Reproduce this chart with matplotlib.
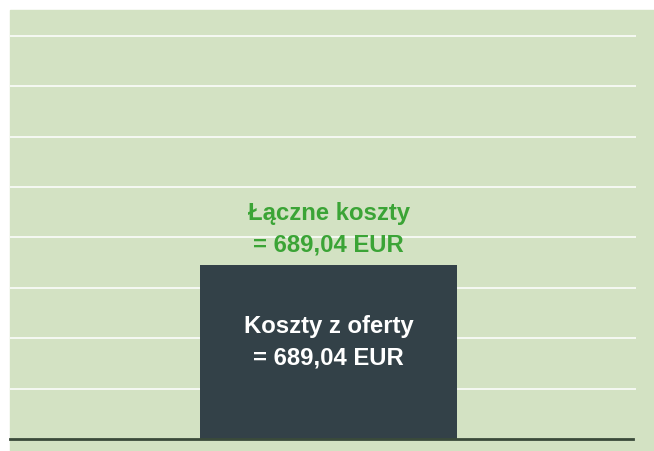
import matplotlib.pyplot as plt
from matplotlib.patches import Rectangle

# data
categories = ['Koszty z oferty']
values = [689.04]
total_label = 'Łączne koszty\n= 689,04 EUR'
bar_label = 'Koszty z oferty\n= 689,04 EUR'
grid_ticks = [200, 400, 600, 800, 1000, 1200, 1400, 1600]

bg = '#d3e2c3'
bar_color = '#334148'
green = '#3ba436'

plt.rcParams['font.family'] = ['Liberation Sans', 'DejaVu Sans']

fig = plt.figure(figsize=(6.54, 4.52), dpi=100)
fig.patch.set_facecolor('white')
fig.add_artist(Rectangle((10 / 654, 0), 644 / 654, 441 / 452,
                         transform=fig.transFigure, color=bg, zorder=-5))

ax = fig.add_axes([10 / 654, 12 / 452, 626 / 654, 429 / 452])
ax.set_facecolor('none')
ax.set_xlim(0, 1)
ax.set_ylim(0, 1702)

xpos = [0.5088]
ax.bar(xpos, values, width=0.4105, color=bar_color, zorder=2)

for t in grid_ticks:
    ax.axhline(t, color='white', lw=1.3, alpha=0.85, zorder=1)
ax.plot([0, 623 / 626], [0, 0], color='#3a4a3a', lw=2, zorder=3, clip_on=False)

for x, v in zip(xpos, values):
    ax.text(x, v + 147, total_label, ha='center', va='center', color=green,
            fontsize=17.2, fontweight='bold', linespacing=1.45)
    ax.text(x, v / 2 + 43, bar_label, ha='center', va='center', color='white',
            fontsize=17.2, fontweight='bold', linespacing=1.45)

for s in ax.spines.values():
    s.set_visible(False)
ax.set_xticks([])
ax.set_yticks([])

fig.savefig('out.png', dpi=100)
